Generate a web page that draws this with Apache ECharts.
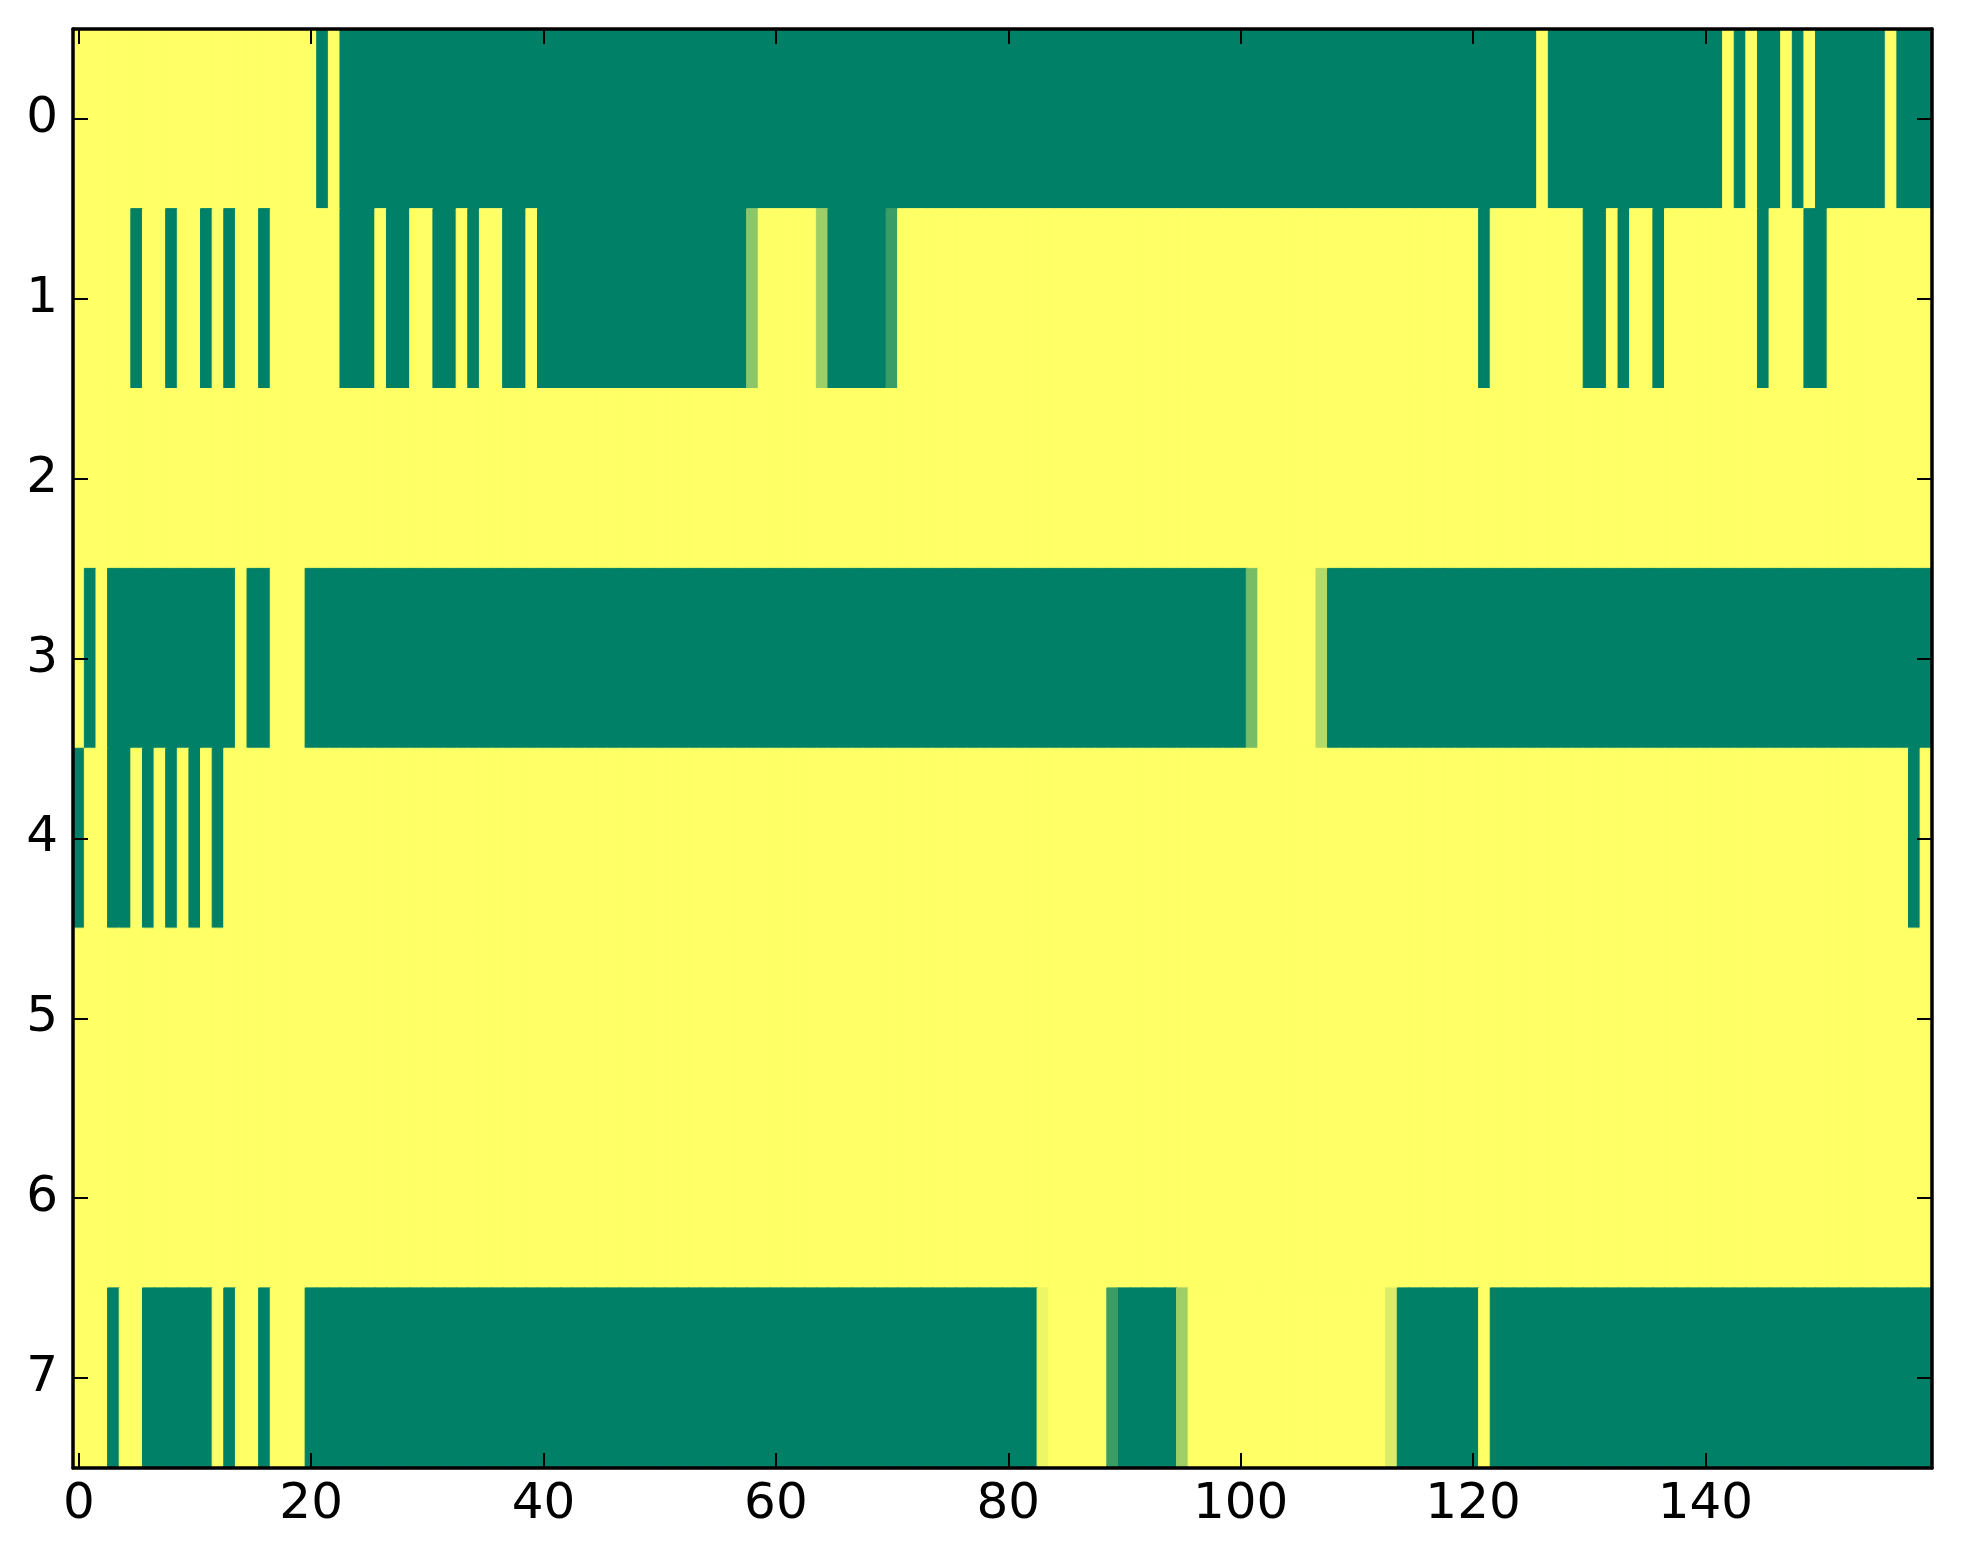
<!DOCTYPE html>
<html>
<head>
<meta charset="utf-8">
<script src="https://cdn.jsdelivr.net/npm/echarts@6/dist/echarts.min.js"></script>
<style>
  html, body { margin: 0; padding: 0; background: #ffffff; }
  #chart { width: 1963px; height: 1564px; }
</style>
</head>
<body>
<div id="chart"></div>
<script>
// 1 = yellow, 0 = green (summer colormap), intermediate values as read
var xCategories = [];
for (var i = 0; i < 160; i++) xCategories.push(String(i));
var yCategories = ['0', '1', '2', '3', '4', '5', '6', '7'];
var xTickLabels = ['0', '20', '40', '60', '80', '100', '120', '140'];

var row0 = [1,1,1,1,1,1,1,1,1,1, 1,1,1,1,1,1,1,1,1,1,
            1,0,1,0,0,0,0,0,0,0, 0,0,0,0,0,0,0,0,0,0,
            0,0,0,0,0,0,0,0,0,0, 0,0,0,0,0,0,0,0,0,0,
            0,0,0,0,0,0,0,0,0,0, 0,0,0,0,0,0,0,0,0,0,
            0,0,0,0,0,0,0,0,0,0, 0,0,0,0,0,0,0,0,0,0,
            0,0,0,0,0,0,0,0,0,0, 0,0,0,0,0,0,0,0,0,0,
            0,0,0,0,0,0,1,0,0,0, 0,0,0,0,0,0,0,0,0,0,
            0,0,1,0,1,0,0,1,0,1, 0,0,0,0,0,0,1,0,0,0];
var row1 = [1,1,1,1,1,0,1,1,0,1, 1,0,1,0,1,1,0,1,1,1,
            1,1,1,0,0,0,1,0,0,1, 1,0,0,1,0,1,1,0,0,1,
            0,0,0,0,0,0,0,0,0,0, 0,0,0,0,0,0,0,0,0.55,1,
            1,1,1,1,0.62,0,0,0,0,0, 0.23,1,1,1,1,1,1,1,1,1,
            1,1,1,1,1,1,1,1,1,1, 1,1,1,1,1,1,1,1,1,1,
            1,1,1,1,1,1,1,1,1,1, 1,1,1,1,1,1,1,1,1,1,
            1,0,1,1,1,1,1,1,1,1, 0,0,1,0,1,1,0,1,1,1,
            1,1,1,1,1,0,1,1,1,0, 0,1,1,1,1,1,1,1,1,1];
var row2 = [1,1,1,1,1,1,1,1,1,1, 1,1,1,1,1,1,1,1,1,1,
            1,1,1,1,1,1,1,1,1,1, 1,1,1,1,1,1,1,1,1,1,
            1,1,1,1,1,1,1,1,1,1, 1,1,1,1,1,1,1,1,1,1,
            1,1,1,1,1,1,1,1,1,1, 1,1,1,1,1,1,1,1,1,1,
            1,1,1,1,1,1,1,1,1,1, 1,1,1,1,1,1,1,1,1,1,
            1,1,1,1,1,1,1,1,1,1, 1,1,1,1,1,1,1,1,1,1,
            1,1,1,1,1,1,1,1,1,1, 1,1,1,1,1,1,1,1,1,1,
            1,1,1,1,1,1,1,1,1,1, 1,1,1,1,1,1,1,1,1,1];
var row3 = [1,0,1,0,0,0,0,0,0,0, 0,0,0,0,1,0,0,1,1,1,
            0,0,0,0,0,0,0,0,0,0, 0,0,0,0,0,0,0,0,0,0,
            0,0,0,0,0,0,0,0,0,0, 0,0,0,0,0,0,0,0,0,0,
            0,0,0,0,0,0,0,0,0,0, 0,0,0,0,0,0,0,0,0,0,
            0,0,0,0,0,0,0,0,0,0, 0,0,0,0,0,0,0,0,0,0,
            0,0.47,1,1,1,1,1,0.71,0,0, 0,0,0,0,0,0,0,0,0,0,
            0,0,0,0,0,0,0,0,0,0, 0,0,0,0,0,0,0,0,0,0,
            0,0,0,0,0,0,0,0,0,0, 0,0,0,0,0,0,0,0,0,0];
var row4 = [0,1,1,0,0,1,0,1,0,1, 0,1,0,1,1,1,1,1,1,1,
            1,1,1,1,1,1,1,1,1,1, 1,1,1,1,1,1,1,1,1,1,
            1,1,1,1,1,1,1,1,1,1, 1,1,1,1,1,1,1,1,1,1,
            1,1,1,1,1,1,1,1,1,1, 1,1,1,1,1,1,1,1,1,1,
            1,1,1,1,1,1,1,1,1,1, 1,1,1,1,1,1,1,1,1,1,
            1,1,1,1,1,1,1,1,1,1, 1,1,1,1,1,1,1,1,1,1,
            1,1,1,1,1,1,1,1,1,1, 1,1,1,1,1,1,1,1,1,1,
            1,1,1,1,1,1,1,1,1,1, 1,1,1,1,1,1,1,1,0,1];
var row5 = [1,1,1,1,1,1,1,1,1,1, 1,1,1,1,1,1,1,1,1,1,
            1,1,1,1,1,1,1,1,1,1, 1,1,1,1,1,1,1,1,1,1,
            1,1,1,1,1,1,1,1,1,1, 1,1,1,1,1,1,1,1,1,1,
            1,1,1,1,1,1,1,1,1,1, 1,1,1,1,1,1,1,1,1,1,
            1,1,1,1,1,1,1,1,1,1, 1,1,1,1,1,1,1,1,1,1,
            1,1,1,1,1,1,1,1,1,1, 1,1,1,1,1,1,1,1,1,1,
            1,1,1,1,1,1,1,1,1,1, 1,1,1,1,1,1,1,1,1,1,
            1,1,1,1,1,1,1,1,1,1, 1,1,1,1,1,1,1,1,1,1];
var row6 = [1,1,1,1,1,1,1,1,1,1, 1,1,1,1,1,1,1,1,1,1,
            1,1,1,1,1,1,1,1,1,1, 1,1,1,1,1,1,1,1,1,1,
            1,1,1,1,1,1,1,1,1,1, 1,1,1,1,1,1,1,1,1,1,
            1,1,1,1,1,1,1,1,1,1, 1,1,1,1,1,1,1,1,1,1,
            1,1,1,1,1,1,1,1,1,1, 1,1,1,1,1,1,1,1,1,1,
            1,1,1,1,1,1,1,1,1,1, 1,1,1,1,1,1,1,1,1,1,
            1,1,1,1,1,1,1,1,1,1, 1,1,1,1,1,1,1,1,1,1,
            1,1,1,1,1,1,1,1,1,1, 1,1,1,1,1,1,1,1,1,1];
var row7 = [1,1,1,0,1,1,0,0,0,0, 0,0,1,0,1,1,0,1,1,1,
            0,0,0,0,0,0,0,0,0,0, 0,0,0,0,0,0,0,0,0,0,
            0,0,0,0,0,0,0,0,0,0, 0,0,0,0,0,0,0,0,0,0,
            0,0,0,0,0,0,0,0,0,0, 0,0,0,0,0,0,0,0,0,0,
            0,0,0,0.93,1,1,1,1,1,0.23, 0,0,0,0,0,0.62,1,1,1,1,
            1,1,1,1,1,1,1,1,1,1, 1,1,1,0.86,0,0,0,0,0,0,
            0,1,0,0,0,0,0,0,0,0, 0,0,0,0,0,0,0,0,0,0,
            0,0,0,0,0,0,0,0,0,0, 0,0,0,0,0,0,0,0,0,0];

var rows = [row0, row1, row2, row3, row4, row5, row6, row7];

// summer colormap: linear from (0,128,102) to (255,255,102)
function summer(v) {
  var r = Math.round(255 * v);
  var g = Math.round(128 + 127 * v);
  return 'rgb(' + r + ',' + g + ',102)';
}

var heatData = [];
rows.forEach(function (r, y) {
  r.forEach(function (v, x) {
    var c = summer(v);
    heatData.push({ value: [x, y, v], itemStyle: { color: c, borderColor: c, borderWidth: 1 } });
  });
});

var FONT = 'DejaVu Sans';
var tickEvery20 = function (idx) { return idx % 20 === 0; };

var chart = echarts.init(document.getElementById('chart'), null, { renderer: 'canvas' });
chart.setOption({
  animation: false,
  backgroundColor: '#ffffff',
  grid: { left: 73, top: 29, width: 1859, height: 1439, containLabel: false },
  visualMap: {
    show: false, type: 'continuous', min: 0, max: 1, dimension: 2,
    inRange: { color: ['#008066', '#ffff66'] }
  },
  xAxis: [
    {
      type: 'category', data: xCategories, position: 'bottom',
      axisLine: { show: true, lineStyle: { color: '#000', width: 3.5 } },
      axisTick: { show: true, inside: true, length: 15, alignWithLabel: true, interval: tickEvery20, lineStyle: { color: '#000', width: 2 } },
      axisLabel: { show: true, interval: tickEvery20, margin: 12, fontFamily: FONT, fontSize: 50, color: '#000' },
      splitLine: { show: false }, splitArea: { show: false }, z: 10
    },
    {
      type: 'category', data: xCategories, position: 'top',
      axisLine: { show: true, lineStyle: { color: '#000', width: 3.5 } },
      axisTick: { show: true, inside: true, length: 15, alignWithLabel: true, interval: tickEvery20, lineStyle: { color: '#000', width: 2 } },
      axisLabel: { show: false },
      splitLine: { show: false }, splitArea: { show: false }, z: 10
    }
  ],
  yAxis: [
    {
      type: 'category', data: yCategories, inverse: true, position: 'left',
      axisLine: { show: true, lineStyle: { color: '#000', width: 3.5 } },
      axisTick: { show: true, inside: true, length: 15, alignWithLabel: true, lineStyle: { color: '#000', width: 2 } },
      axisLabel: { show: true, margin: 15, fontFamily: FONT, fontSize: 50, color: '#000' },
      splitLine: { show: false }, splitArea: { show: false }, z: 10
    },
    {
      type: 'category', data: yCategories, inverse: true, position: 'right',
      axisLine: { show: true, lineStyle: { color: '#000', width: 3.5 } },
      axisTick: { show: true, inside: true, length: 15, alignWithLabel: true, lineStyle: { color: '#000', width: 2 } },
      axisLabel: { show: false },
      splitLine: { show: false }, splitArea: { show: false }, z: 10
    }
  ],
  series: [{
    type: 'heatmap',
    xAxisIndex: 0, yAxisIndex: 0,
    data: heatData,
    emphasis: { disabled: true },
    progressive: 0
  }]
});
</script>
</body>
</html>
